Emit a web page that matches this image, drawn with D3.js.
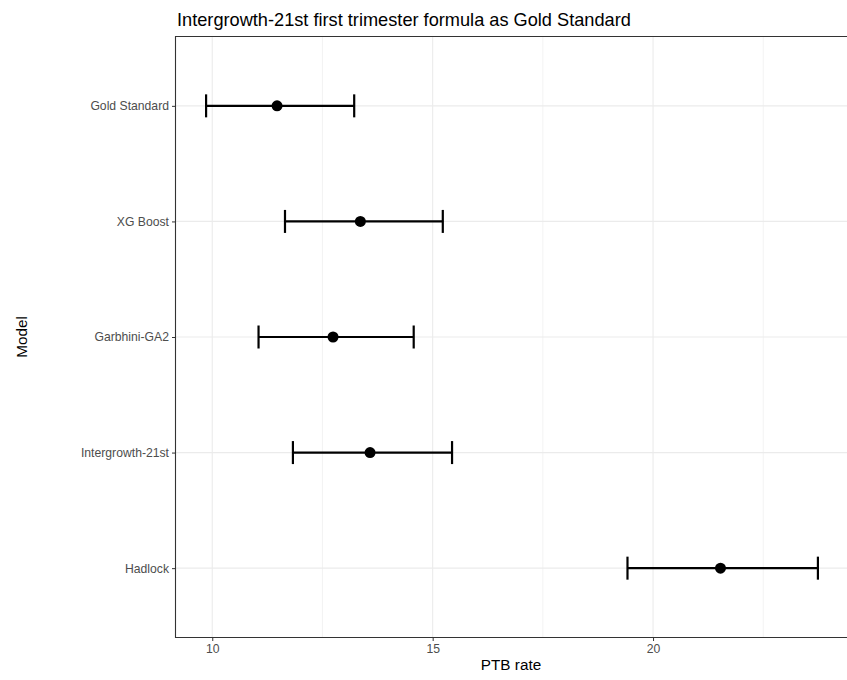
<!DOCTYPE html>
<html>
<head>
<meta charset="utf-8">
<script src="https://cdn.jsdelivr.net/npm/d3@7"></script>
<style>
  body { margin: 0; background: #fff; overflow: hidden; }
  svg { display: block; }
  text { font-family: "Liberation Sans", Arial, sans-serif; }
</style>
</head>
<body>
<script>
// model names, top to bottom
var models = ["Gold Standard", "XG Boost", "Garbhini-GA2", "Intergrowth-21st", "Hadlock"];
// PTB rate estimates and confidence bounds
var rate  = [11.47, 13.36, 12.74, 13.58, 21.53];
var lower = [9.86, 11.65, 11.05, 11.83, 19.42];
var upper = [13.22, 15.23, 14.57, 15.44, 23.74];
var xTicks = [10, 15, 20];
var xMinor = [12.5, 17.5, 22.5];

var width = 847, height = 680;
// right edge of the panel runs just past the picture
var panelL = 175.5, panelR = 848.5, panelT = 36.5, panelB = 637.5;

var svg = d3.select("body").append("svg")
    .attr("width", width)
    .attr("height", height);

var lo = d3.min(lower), hi = d3.max(upper), pad = (hi - lo) * 0.05;
var x = d3.scaleLinear()
    .domain([lo - pad, hi + pad])
    .range([panelL, panelR]);

var y = d3.scalePoint()
    .domain(models)
    .range([panelT, panelB])
    .padding(0.6);

// grid
svg.selectAll(".minor").data(xMinor).enter().append("line")
    .attr("x1", d => x(d)).attr("x2", d => x(d))
    .attr("y1", panelT).attr("y2", panelB)
    .attr("stroke", "#ebebeb").attr("stroke-width", 0.6);
svg.selectAll(".major").data(xTicks).enter().append("line")
    .attr("x1", d => x(d)).attr("x2", d => x(d))
    .attr("y1", panelT).attr("y2", panelB)
    .attr("stroke", "#ebebeb").attr("stroke-width", 1.1);
svg.selectAll(".hgrid").data(models).enter().append("line")
    .attr("x1", panelL).attr("x2", width)
    .attr("y1", d => y(d)).attr("y2", d => y(d))
    .attr("stroke", "#ebebeb").attr("stroke-width", 1.1);

// axes
var xAxis = svg.append("g")
    .attr("transform", "translate(0," + panelB + ")")
    .call(d3.axisBottom(x).tickValues(xTicks).tickSize(3.5).tickPadding(3));
var yAxis = svg.append("g")
    .attr("transform", "translate(" + panelL + ",0)")
    .call(d3.axisLeft(y).tickSize(3.5).tickPadding(3));
[xAxis, yAxis].forEach(function(g) {
  g.select(".domain").remove();
  g.selectAll("line").attr("stroke", "#333").attr("stroke-width", 1);
  g.selectAll("text").attr("fill", "#4d4d4d").style("font-size", "12.2px");
});

// error bars
var idx = d3.range(models.length);
var bars = svg.append("g");
bars.selectAll(".bar").data(idx).enter().append("line")
    .attr("x1", i => x(lower[i])).attr("x2", i => x(upper[i]))
    .attr("y1", i => y(models[i])).attr("y2", i => y(models[i]))
    .attr("stroke", "#000").attr("stroke-width", 2.2);
bars.selectAll(".capL").data(idx).enter().append("line")
    .attr("x1", i => x(lower[i])).attr("x2", i => x(lower[i]))
    .attr("y1", i => y(models[i]) - 11.5).attr("y2", i => y(models[i]) + 11.5)
    .attr("stroke", "#000").attr("stroke-width", 2.2);
bars.selectAll(".capU").data(idx).enter().append("line")
    .attr("x1", i => x(upper[i])).attr("x2", i => x(upper[i]))
    .attr("y1", i => y(models[i]) - 11.5).attr("y2", i => y(models[i]) + 11.5)
    .attr("stroke", "#000").attr("stroke-width", 2.2);
bars.selectAll("circle").data(idx).enter().append("circle")
    .attr("cx", i => x(rate[i])).attr("cy", i => y(models[i]))
    .attr("r", 5.5).attr("fill", "#000");

// panel border: left, top, bottom only, the right side is off the picture
svg.append("path")
    .attr("d", "M" + width + "," + panelT + "H" + panelL + "V" + panelB + "H" + width)
    .attr("fill", "none").attr("stroke", "#333").attr("stroke-width", 1.1);

// labels
svg.append("text")
    .attr("x", 177).attr("y", 26)
    .style("font-size", "18.2px").attr("fill", "#000")
    .text("Intergrowth-21st first trimester formula as Gold Standard");
svg.append("text")
    .attr("x", 511).attr("y", 670)
    .attr("text-anchor", "middle")
    .style("font-size", "15.3px").attr("fill", "#000")
    .text("PTB rate");
svg.append("text")
    .attr("transform", "translate(26.5," + (panelT + panelB) / 2 + ") rotate(-90)")
    .attr("text-anchor", "middle")
    .style("font-size", "15.3px").attr("fill", "#000")
    .text("Model");
</script>
</body>
</html>
